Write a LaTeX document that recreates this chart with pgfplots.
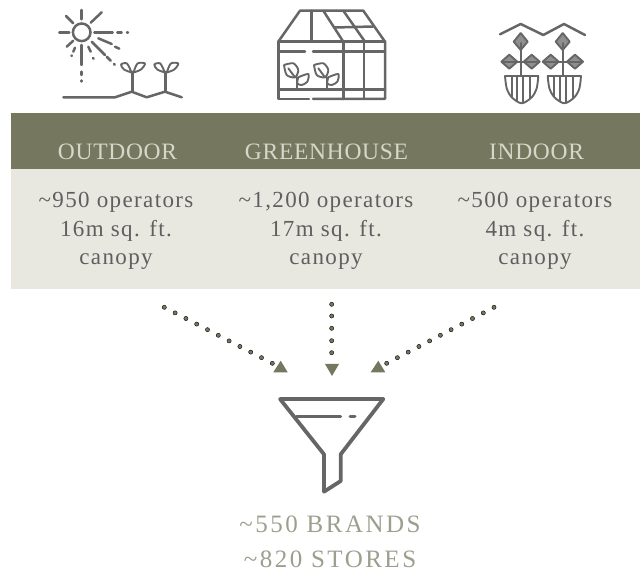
\documentclass[border=0pt]{standalone}
\usepackage{fontspec}
\setmainfont{Liberation Serif}
\newfontfamily\headfont[LetterSpace=3]{Liberation Serif}
\newfontfamily\bodyfont[LetterSpace=6]{Liberation Serif}
\newfontfamily\footfont[LetterSpace=10]{Liberation Serif}
\usepackage{pgfplots}
\pgfplotsset{compat=1.18}
\definecolor{olive}{HTML}{75775F}
\definecolor{pale}{HTML}{E8E8E1}
\definecolor{headtxt}{HTML}{D6D7C8}
\definecolor{bodytxt}{HTML}{5F5F5F}
\definecolor{foottxt}{HTML}{9C9E8E}
\definecolor{ink}{HTML}{666666}
\definecolor{leaf}{HTML}{8F8F8F}
\pgfplotsset{
  icon/.style={no marks, draw=ink, line width=2.5pt, line join=round, line cap=round},
  thin icon/.style={icon, line width=1.9pt},
  dots/.style={only marks, mark=*, mark size=2.1pt, mark options={fill=olive, draw=none}},
  tri/.style={fill=olive, draw=none, no marks},
}
\newcommand{\ic}[1]{\addplot[icon] coordinates {#1};}
\newcommand{\tc}[1]{\addplot[thin icon] coordinates {#1};}
\newcommand{\lf}[1]{\addplot[thin icon, smooth] coordinates {#1};}
\newcommand{\dm}[1]{\addplot[thin icon, fill=leaf] coordinates {#1};}

\begin{document}
\begin{tikzpicture}
\useasboundingbox (0,0) rectangle (641pt,577pt);
\begin{axis}[
  x=1pt, y=1pt, y dir=reverse,
  xmin=0, xmax=641, ymin=0, ymax=577,
  hide axis, clip=false,
  at={(0,0)}, anchor=south west,
]
% bands
\addplot[fill=pale, draw=none, no marks] coordinates {(11,169) (640,169) (640,289) (11,289)};
\addplot[fill=olive, draw=none, no marks] coordinates {(11,113) (640,113) (640,169.5) (11,169.5)};

% sun and seedlings
\addplot[only marks, mark=o, mark size=8.8pt, mark options={draw=ink, line width=2.5pt}] coordinates {(81.7,32.3)};
\ic{(81.7,10) (81.7,19.3)}
\ic{(101.7,12.3) (90.7,22.7)}
\ic{(66,16) (73.3,23.3)}
\ic{(59.3,32.3) (69.3,32.3)}
\ic{(94.3,32.3) (112.7,32.3)}
\ic{(117.3,32.3) (121.7,32.3)}
\ic{(127,32.3) (128,32.3)}
\ic{(98.3,38.3) (111.7,44)}
\ic{(115,46.7) (119.3,48.7)}
\ic{(91.7,41.7) (105,55)}
\ic{(106.7,56.7) (110.7,60.7)}
\ic{(114,64) (114.8,64.8)}
\ic{(88.3,46.7) (90.7,51.7)}
\ic{(93,58) (93.6,58.8)}
\ic{(75,47.7) (73.3,51.7)}
\ic{(71.8,55.4) (71.5,56)}
\ic{(73.3,40.7) (66.7,46.7)}
\ic{(81.7,45) (81.7,65)}
\ic{(81.7,71.7) (81.7,75)}
\ic{(81.7,80.5) (81.7,81.5)}
\ic{(63.3,97.3) (115,97.3) (131.7,91.7) (146.7,97.3) (165,91.7) (181.7,97.3)}
\ic{(132.3,91.7) (132.3,72)}
\ic{(165.7,91.7) (165.7,72)}
\lf{(131.5,72.5) (124,69.5) (121,64.5) (127,63.5) (131.5,72.5)}
\lf{(133.5,72.5) (141,69.5) (145,63.5) (137.5,63.5) (133.5,72.5)}
\lf{(164.8,72.5) (157.3,69.5) (154.3,64.5) (160.3,63.5) (164.8,72.5)}
\lf{(166.8,72.5) (174.3,69.5) (178.3,63.5) (170.8,63.5) (166.8,72.5)}

% greenhouse
\ic{(278.3,41.7) (300,10.7) (363.3,10.7) (385,41.7) (385,99) (313,99)}
\ic{(309,99) (278.3,99) (278.3,41.7) (385,41.7)}
\ic{(311.7,10.7) (311.7,41.7)}
\ic{(323.3,10.7) (343.3,41.7)}
\ic{(343.3,10.7) (365,41.7)}
\ic{(335,27.5) (373,26.5)}
\ic{(343.3,41.7) (343.3,99)}
\ic{(364,41.7) (364,99)}
\ic{(278.3,51.7) (305,51.7)}
\ic{(313,51.7) (385,51.7)}
\ic{(278.3,89.3) (385,89.3)}
\lf{(284,65) (293.3,63.3) (298.3,70) (295,77.3) (286.7,75) (284,65)}
\tc{(288.3,68.3) (295,77.3)}
\lf{(298.3,77.3) (308.3,74) (307.3,81.7) (301.7,85) (297.3,83.3) (298.3,77.3)}
\tc{(296.7,77.3) (296.7,88.3)}
\lf{(314,65) (323.3,63.3) (328.3,70) (325,77.3) (316.7,75) (314,65)}
\tc{(318.3,68.3) (325,77.3)}
\lf{(328.3,77.3) (338.3,74) (337.3,81.7) (331.7,85) (327.3,83.3) (328.3,77.3)}
\tc{(326.7,77.3) (326.7,88.3)}

% indoor pots
\ic{(500,34.3) (520.7,24) (543.3,35) (564,24) (585,35)}
\dm{(520.7,33) (527.7,41.7) (520.7,50) (513.7,41.7) (520.7,33)}
\dm{(562.7,33) (569.7,41.7) (562.7,50) (555.7,41.7) (562.7,33)}
\dm{(501.3,61.7) (509.3,54.7) (517.3,61.7) (509.3,68.7) (501.3,61.7)}
\dm{(523.7,61.7) (531.7,54.7) (539.7,61.7) (531.7,68.7) (523.7,61.7)}
\dm{(542.7,61.7) (550.7,54.7) (558.7,61.7) (550.7,68.7) (542.7,61.7)}
\dm{(567,61.7) (575,54.7) (583,61.7) (575,68.7) (567,61.7)}
\tc{(520.7,43) (520.7,76)}
\tc{(562.7,43) (562.7,76)}
\tc{(503.3,61.7) (538.3,61.7)}
\tc{(545,61.7) (581.7,61.7)}
\tc{(505,76) (538.3,76)}
\addplot[thin icon, smooth] coordinates {(505,76) (506.7,88.3) (511.7,97.3) (521.7,103.3) (531.7,97.3) (536.7,88.3) (538.3,76)};
\tc{(511.7,76) (511.7,96.5)}
\tc{(517.3,76) (517.3,101)}
\tc{(523.3,76) (523.3,102)}
\tc{(530,76) (530,98)}
\tc{(547.7,76) (581,76)}
\addplot[thin icon, smooth] coordinates {(547.7,76) (549.4,88.3) (554.4,97.3) (564.4,103.3) (574.4,97.3) (579.4,88.3) (581,76)};
\tc{(554.4,76) (554.4,96.5)}
\tc{(560,76) (560,101)}
\tc{(566,76) (566,102)}
\tc{(572.7,76) (572.7,98)}

% dotted arrows into the funnel
\addplot[dots] coordinates {(164.3,307.3) (175.1,312.9) (185.9,318.5) (196.7,324.1) (207.5,329.7) (218.3,335.3) (229.1,340.9) (239.9,346.5) (250.7,352.1) (261.5,357.7) (272.3,363.3)};
\addplot[tri] coordinates {(280.7,360.7) (273.3,372.3) (287.7,372.3)};
\addplot[dots] coordinates {(331.7,304.3) (331.7,316) (331.7,328.3) (331.7,340.7) (331.7,352.7)};
\addplot[tri] coordinates {(325,364) (339,364) (332,376)};
\addplot[dots] coordinates {(494,307.3) (483.3,312.9) (472.5,318.5) (461.8,324.1) (451.1,329.7) (440.4,335.3) (429.6,340.9) (418.9,346.5) (408.2,352.1) (397.4,357.7) (386.7,363.3)};
\addplot[tri] coordinates {(378.3,360.7) (370.7,372.3) (385.3,372.3)};

% funnel
\addplot[no marks, draw=ink, line width=3.8pt, line join=round, line cap=round] coordinates {(280,399) (383.3,399) (340.7,454.3) (340.7,481) (324,491.7) (324,454.3) (280,399)};
\addplot[no marks, draw=ink, line width=3pt, line cap=round] coordinates {(296.7,416.7) (340.7,416.7)};
\addplot[no marks, draw=ink, line width=3pt, line cap=round] coordinates {(350,416.7) (355,416.7)};

% labels
\begin{scope}[every node/.style={anchor=base, inner sep=0pt}]
\node[text=headtxt] at (axis cs:117.5,160) {\headfont\fontsize{23.5}{26}\selectfont OUTDOOR};
\node[text=headtxt] at (axis cs:326.5,160) {\headfont\fontsize{23.5}{26}\selectfont GREENHOUSE};
\node[text=headtxt] at (axis cs:536.5,160) {\headfont\fontsize{23.5}{26}\selectfont INDOOR};
\node[text=bodytxt] at (axis cs:116,208) {\bodyfont\fontsize{23}{26}\selectfont \textasciitilde950 operators};
\node[text=bodytxt] at (axis cs:116,237) {\bodyfont\fontsize{23}{26}\selectfont 16m sq. ft.};
\node[text=bodytxt] at (axis cs:116,265) {\bodyfont\fontsize{23}{26}\selectfont canopy};
\node[text=bodytxt] at (axis cs:326,208) {\bodyfont\fontsize{23}{26}\selectfont \textasciitilde 1,200 operators};
\node[text=bodytxt] at (axis cs:326,237) {\bodyfont\fontsize{23}{26}\selectfont 17m sq. ft.};
\node[text=bodytxt] at (axis cs:326,265) {\bodyfont\fontsize{23}{26}\selectfont canopy};
\node[text=bodytxt] at (axis cs:535,208) {\bodyfont\fontsize{23}{26}\selectfont \textasciitilde500 operators};
\node[text=bodytxt] at (axis cs:535,237) {\bodyfont\fontsize{23}{26}\selectfont 4m sq. ft.};
\node[text=bodytxt] at (axis cs:535,265) {\bodyfont\fontsize{23}{26}\selectfont canopy};
\node[text=foottxt] at (axis cs:330,533) {\footfont\fontsize{25}{28}\selectfont \textasciitilde550 BRANDS};
\node[text=foottxt] at (axis cs:330,568) {\footfont\fontsize{25}{28}\selectfont \textasciitilde820 STORES};
\end{scope}
\end{axis}
\end{tikzpicture}
\end{document}
